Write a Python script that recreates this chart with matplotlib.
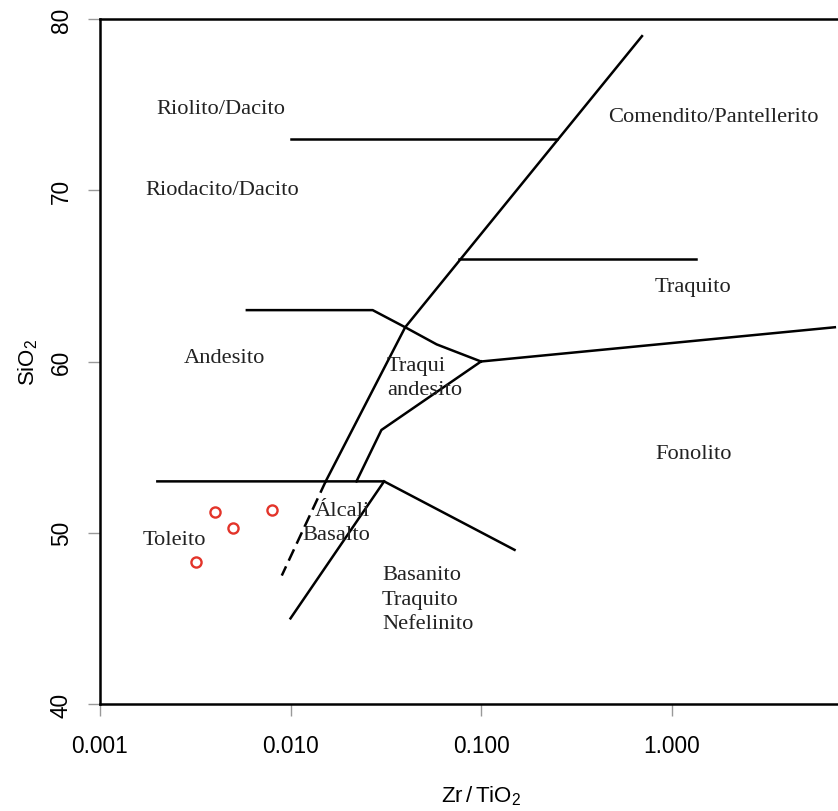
import matplotlib
matplotlib.use("Agg")
import matplotlib.pyplot as plt

# limites do diagrama (Zr/TiO2, SiO2)
lim_riolito_x = [0.0100, 0.25]
lim_riolito_y = [73, 73]

lim_comendito_x = [0.70, 0.040, 0.0153]
lim_comendito_y = [79, 62, 53]

lim_alcali_x = [0.0153, 0.009]
lim_alcali_y = [53, 47.5]

lim_traquito_x = [0.077, 1.35]
lim_traquito_y = [66, 66]

lim_andesito_x = [0.0059, 0.027, 0.040, 0.0585, 0.10]
lim_andesito_y = [63, 63, 62, 61, 60]

lim_fonolito_x = [0.10, 7.2]
lim_fonolito_y = [60, 62]

lim_traqand_x = [0.10, 0.030, 0.0222]
lim_traqand_y = [60, 56, 53]

lim_toleito_x = [0.002, 0.031, 0.15]
lim_toleito_y = [53, 53, 49]

lim_basalto_x = [0.031, 0.010]
lim_basalto_y = [53, 45]

# amostras
zr_tio2 = [0.0040, 0.0050, 0.0080, 0.0032]
sio2 = [51.2, 50.3, 51.3, 48.3]

# nomes dos campos
rotulos = ["Riolito/Dacito", "Riodacito/Dacito", "Comendito/Pantellerito",
           "Traquito", "Andesito", "Fonolito", "Toleito"]
rot_x = [0.00432, 0.00437, 1.66, 1.30, 0.00451, 1.30, 0.00247]
rot_y = [74.75, 70.05, 74.3, 64.4, 60.25, 54.65, 49.6]

rotulos_esq = ["Traqui", "andesito", "Basanito", "Traquito", "Nefelinito"]
esq_x = [0.0321, 0.0321, 0.0302, 0.0302, 0.0302]
esq_y = [59.75, 58.35, 47.55, 46.1, 44.7]

rotulos_dir = ["Álcali", "Basalto"]
dir_x = [0.0261, 0.0261]
dir_y = [51.3, 49.9]

xticks = [0.001, 0.01, 0.1, 1.0]
xtick_labels = ["0.001", "0.010", "0.100", "1.000"]
yticks = [40, 50, 60, 70, 80]

fig = plt.figure(figsize=(8.38, 8.12), dpi=100)
ax = fig.add_axes([100/838, 107/812, 762/838, 685/812])

lw = 1.8
ax.plot(lim_riolito_x, lim_riolito_y, color='k', lw=lw)
ax.plot(lim_comendito_x, lim_comendito_y, color='k', lw=lw)
ax.plot(lim_alcali_x, lim_alcali_y, color='k', lw=lw, linestyle=(0, (5, 2.5)))
ax.plot(lim_traquito_x, lim_traquito_y, color='k', lw=lw)
ax.plot(lim_andesito_x, lim_andesito_y, color='k', lw=lw)
ax.plot(lim_fonolito_x, lim_fonolito_y, color='k', lw=lw)
ax.plot(lim_traqand_x, lim_traqand_y, color='k', lw=lw)
ax.plot(lim_toleito_x, lim_toleito_y, color='k', lw=lw)
ax.plot(lim_basalto_x, lim_basalto_y, color='k', lw=lw)

ax.plot(zr_tio2, sio2, linestyle='none', marker='o', markersize=7.3,
        markerfacecolor='none', markeredgecolor='#e3342a', markeredgewidth=1.7)

fonte = dict(family='Liberation Serif', fontsize=16.2, color='#222222')
for t, x, y in zip(rotulos, rot_x, rot_y):
    ax.text(x, y, t, ha='center', va='center', **fonte)
for t, x, y in zip(rotulos_esq, esq_x, esq_y):
    ax.text(x, y, t, ha='left', va='center', **fonte)
for t, x, y in zip(rotulos_dir, dir_x, dir_y):
    ax.text(x, y, t, ha='right', va='center', **fonte)

ax.set_xscale('log')
ax.set_xlim(0.001, 10)
ax.set_ylim(40, 80)
ax.set_xticks(xticks)
ax.set_xticklabels(xtick_labels)
ax.minorticks_off()
ax.set_yticks(yticks)

for lado in ['left', 'bottom', 'top', 'right']:
    ax.spines[lado].set_linewidth(1.8)
    ax.spines[lado].set_color('k')

ax.tick_params(length=8.6, width=1, color='#999999', labelsize=16.3, direction='out')
ax.tick_params(axis='x', pad=13)
ax.tick_params(axis='y', pad=11)
for lab in ax.get_xticklabels() + ax.get_yticklabels():
    lab.set_family('Liberation Sans')
plt.setp(ax.get_yticklabels(), rotation=90, va='center')

ax.set_xlabel(r'$\mathregular{Zr\,/\,TiO_2}$', fontsize=16, family='Liberation Sans', labelpad=19)
ax.set_ylabel(r'$\mathregular{SiO_2}$', fontsize=16, family='Liberation Sans', labelpad=7)

fig.savefig('out.png', dpi=100)
